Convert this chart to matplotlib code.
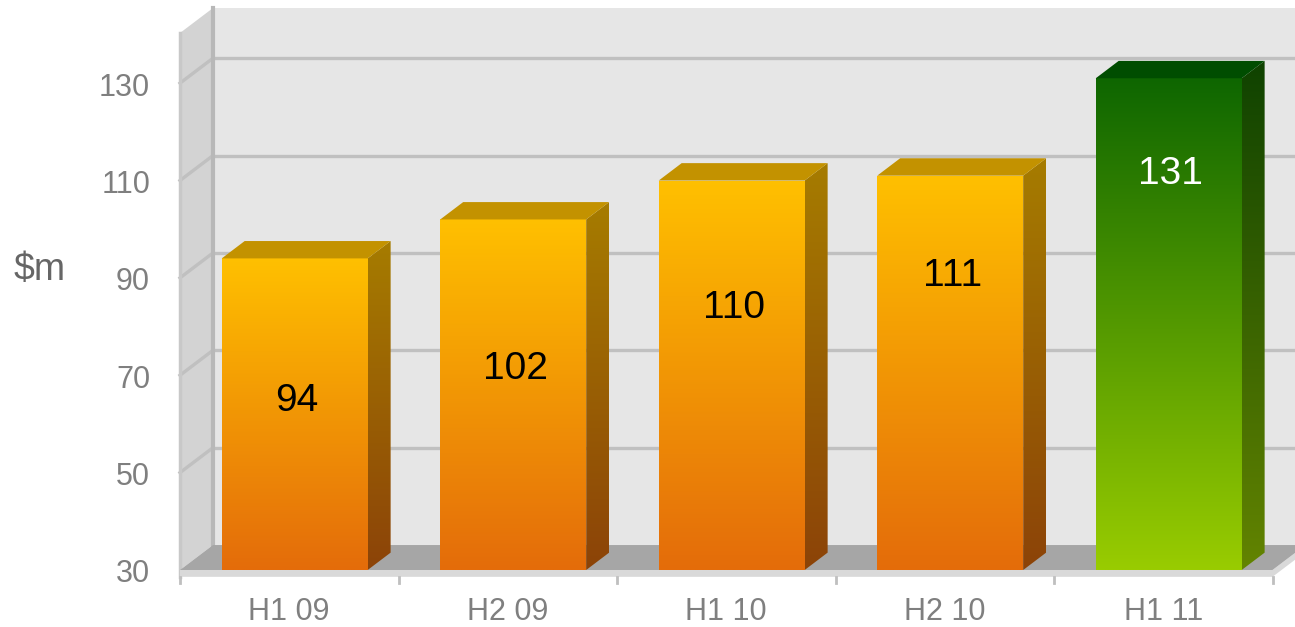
import numpy as np
import matplotlib
matplotlib.use('agg')
import matplotlib.pyplot as plt
from matplotlib.patches import Polygon
from matplotlib.colors import LinearSegmentedColormap

plt.rcParams['font.family'] = ['Liberation Sans', 'DejaVu Sans']

# data
periods = ['H1 09', 'H2 09', 'H1 10', 'H2 10', 'H1 11']
revenue = [94, 102, 110, 111, 131]
y_ticks = [30, 50, 70, 90, 110, 130]
# where Excel put the value labels (in value units)
label_y = [65.5, 71.9, 84.6, 91.0, 112.1]

ymin, ymax = 30, 140.3
# depth of walls / bars in data units
wdx, wdy = 0.151, 5.13
bdx, bdy = 0.105, 3.57
bw, boff = 0.668, 0.025

orange = dict(front=('#FFC000', '#E46C0A'), side=('#A67C00', '#8C4308'),
              top='#C39200', text='black')
green = dict(front=('#0E6600', '#99CC00'), side=('#0F4200', '#638400'),
             top='#004D00', text='white')

fig = plt.figure(figsize=(12.95, 6.27), dpi=100)
ax = fig.add_axes([180 / 1295, 57 / 627, 1092.5 / 1295, 537 / 627])
ax.set_axis_off()

x0, x1 = -0.5, len(periods) - 0.5

# back wall, side wall, floor
ax.add_patch(Polygon([(x0 + wdx, ymin + wdy), (x1 + wdx + 0.2, ymin + wdy),
                      (x1 + wdx + 0.2, ymax + wdy), (x0 + wdx, ymax + wdy)],
                     closed=True, fc='#E6E6E6', ec='none', zorder=0, clip_on=False))
ax.add_patch(Polygon([(x0, ymin), (x0 + wdx, ymin + wdy), (x0 + wdx, ymax + wdy), (x0, ymax)],
                     closed=True, fc='#D3D3D3', ec='none', zorder=0.5, clip_on=False))

for v in y_ticks[1:]:
    ax.plot([x0 + wdx, x1 + wdx + 0.2], [v + wdy, v + wdy], color='#C0C0C0', lw=2.4,
            zorder=1, clip_on=False, solid_capstyle='butt')
    ax.plot([x0, x0 + wdx], [v, v + wdy], color='#C0C0C0', lw=2.4, zorder=1, clip_on=False)

ax.plot([x0 + wdx, x0 + wdx], [ymin + wdy, ymax + wdy], color='#B8B8B8', lw=3,
        zorder=1.2, clip_on=False)
ax.plot([x0, x0], [ymin - 1.4, ymax], color='#C8C8C8', lw=2.5, zorder=1.2, clip_on=False)

ax.add_patch(Polygon([(x0, ymin), (x1, ymin), (x1 + wdx, ymin + wdy), (x0 + wdx, ymin + wdy)],
                     closed=True, fc='#A6A6A6', ec='none', zorder=1.5, clip_on=False))
ax.add_patch(Polygon([(x0, ymin - 1.4), (x1, ymin - 1.4), (x1 + wdx, ymin + wdy - 1.4),
                      (x1 + wdx, ymin + wdy), (x1, ymin), (x0, ymin)],
                     closed=True, fc='#D9D9D9', ec='none', zorder=1.4, clip_on=False))

# category tick marks
for t in np.arange(x0, x1 + 0.5):
    ax.plot([t, t], [ymin - 1.4, ymin - 2.6], color='#BFBFBF', lw=2, clip_on=False, zorder=2)


def grad(ax, poly_pts, c_top, c_bot, ytop, z):
    cmap = LinearSegmentedColormap.from_list('g', [c_bot, c_top])
    pts = np.array(poly_pts)
    g = np.linspace(1, 0, 256).reshape(-1, 1)
    poly = Polygon(poly_pts, closed=True, fc='none', ec='none')
    ax.add_patch(poly)
    im = ax.imshow(g, cmap=cmap, aspect='auto', zorder=z, interpolation='bilinear',
                   extent=[pts[:, 0].min(), pts[:, 0].max(), ymin, ytop], vmin=0, vmax=1)
    im.set_clip_path(poly)


for i, (v, lab) in enumerate(zip(revenue, label_y)):
    st = green if i == len(revenue) - 1 else orange
    xl = i + boff - bw / 2
    xr = i + boff + bw / 2
    front = [(xl, ymin), (xr, ymin), (xr, v), (xl, v)]
    side = [(xr, ymin), (xr + bdx, ymin + bdy), (xr + bdx, v + bdy), (xr, v)]
    top = [(xl, v), (xr, v), (xr + bdx, v + bdy), (xl + bdx, v + bdy)]
    grad(ax, side, st['side'][0], st['side'][1], v + bdy, 3)
    grad(ax, front, st['front'][0], st['front'][1], v, 3)
    ax.add_patch(Polygon(top, closed=True, fc=st['top'], ec='none', zorder=3))
    ax.text(i + boff + 0.01, lab - 0.7, str(v), ha='center', va='center', fontsize=28,
            color=st['text'], zorder=5)

ax.set_xlim(x0, x1)
ax.set_ylim(ymin, ymax)

# axis labels
for v in y_ticks:
    ax.text(-0.637, v - 0.9, str(v), ha='right', va='center', fontsize=22, color='#7F7F7F')
for i, p in enumerate(periods):
    ax.text(i, ymin - 8.6, p, ha='center', va='center', fontsize=22, color='#7F7F7F')
fig.text(14 / 1295, 1 - 270 / 627, '$m', ha='left', va='center', fontsize=27, color='#666666')

fig.savefig('out.png', dpi=100)
